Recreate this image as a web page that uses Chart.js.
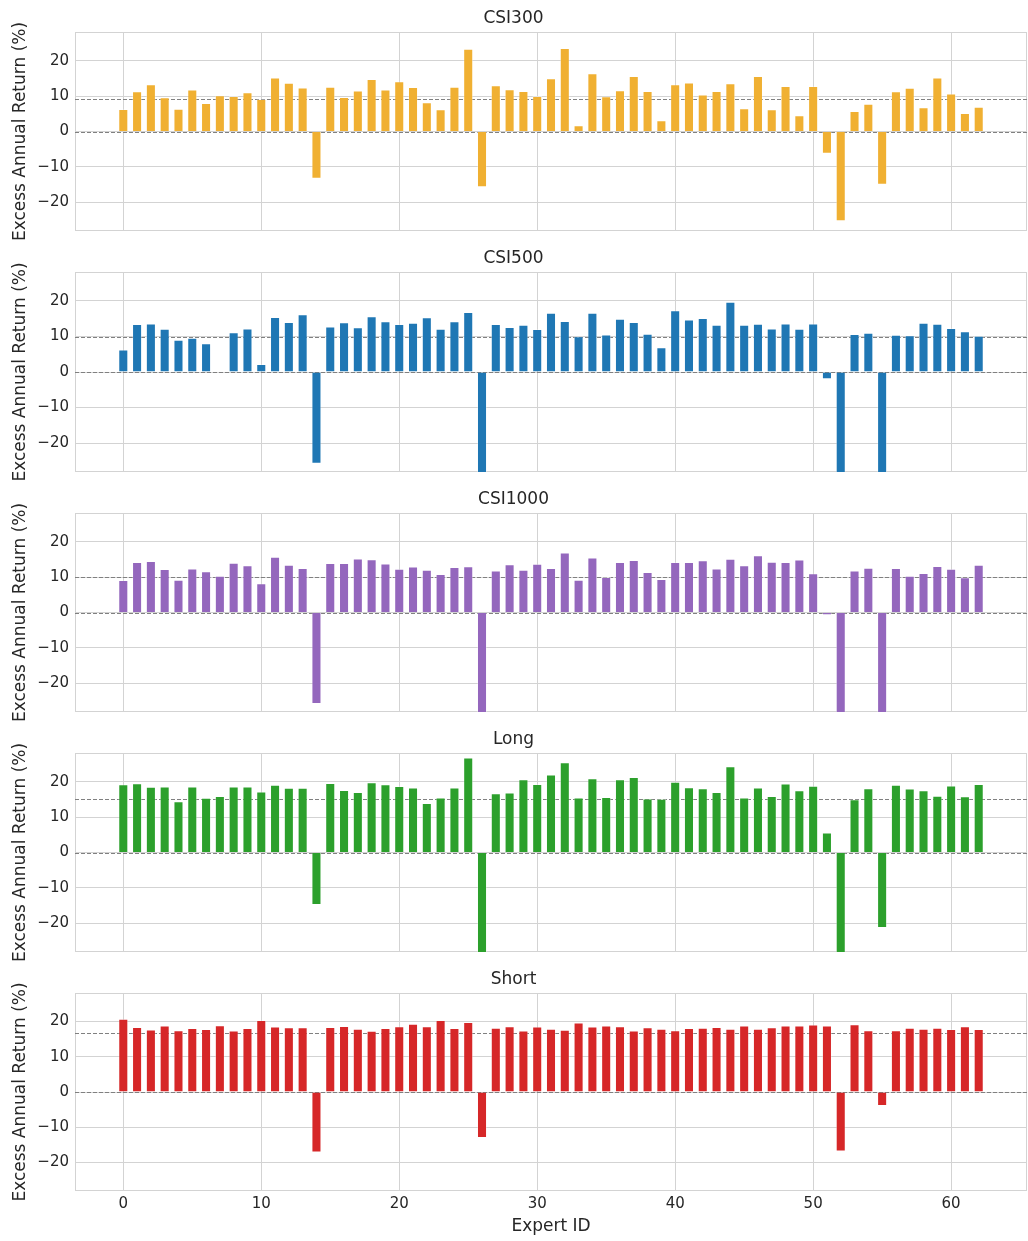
<!DOCTYPE html>
<html>
<head>
<meta charset="utf-8">
<script src="https://cdn.jsdelivr.net/npm/chart.js@4.4.1/dist/chart.umd.min.js"></script>
<style>
  body { margin: 0; background: #fff; width: 1028px; height: 1241px; position: relative; overflow: hidden; }
  .panel { position: absolute; left: 0; width: 1028px; }
</style>
</head>
<body>
<div class="panel" style="top:0px;height:246px"><canvas id="c0"></canvas></div>
<div class="panel" style="top:240px;height:247px"><canvas id="c1"></canvas></div>
<div class="panel" style="top:481px;height:246px"><canvas id="c2"></canvas></div>
<div class="panel" style="top:721px;height:246px"><canvas id="c3"></canvas></div>
<div class="panel" style="top:961px;height:280px"><canvas id="c4"></canvas></div>
<script>
const expertIds = [0, 1, 2, 3, 4, 5, 6, 7, 8, 9, 10, 11, 12, 13, 14, 15, 16, 17, 18, 19, 20,
  21, 22, 23, 24, 25, 26, 27, 28, 29, 30, 31, 32, 33, 34, 35, 36, 37, 38, 39, 40, 41,
  42, 43, 44, 45, 46, 47, 48, 49, 50, 51, 52, 53, 54, 55, 56, 57, 58, 59, 60, 61, 62];

const panelTitles = ["CSI300", "CSI500", "CSI1000", "Long", "Short"];
const panelColors = ["#f0b032", "#1f77b4", "#9467bd", "#2ca02c", "#d62728"];

const csi300 = [6.3, 11.3, 13.3, 9.6, 6.4, 11.8, 8.0, 10.2, 10.0, 11.0, 9.1, 15.2, 13.7, 12.4, -13.3,
  12.6, 9.7, 11.5, 14.8, 11.8, 14.1, 12.5, 8.2, 6.2, 12.6, 23.3, -15.7, 13.0, 11.9, 11.4, 10.0,
  15.0, 23.5, 1.7, 16.4, 9.9, 11.6, 15.6, 11.4, 3.1, 13.3, 13.8, 10.4, 11.4, 13.6, 6.5, 15.6,
  6.2, 12.8, 4.5, 12.8, -6.2, -25.3, 5.7, 7.8, -15.0, 11.3, 12.3, 6.8, 15.2, 10.7, 5.2, 6.9];

const csi500 = [6.3, 13.4, 13.6, 12.1, 9.0, 9.6, 8.0, null, 11.1, 12.2, 2.2, 15.4, 14.0, 16.2, -25.7,
  12.7, 13.9, 12.5, 15.6, 14.2, 13.4, 13.8, 15.3, 12.1, 14.2, 16.8, -36.0, 13.4, 12.6, 13.2, 12.0,
  16.6, 14.3, 10.0, 16.6, 10.5, 14.9, 14.0, 10.7, 6.9, 17.3, 14.7, 15.1, 13.2, 19.7, 13.2, 13.5,
  12.2, 13.6, 12.1, 13.6, -2.0, -38.0, 10.6, 11.0, -35.0, 10.4, 10.3, 13.8, 13.5, 12.3, 11.4, 10.1];

const csi1000 = [9.1, 14.2, 14.5, 12.2, 9.2, 12.4, 11.6, 10.3, 14.0, 13.3, 8.2, 15.7, 13.4, 12.5, -25.8,
  13.9, 13.9, 15.2, 15.0, 13.8, 12.3, 12.9, 12.0, 10.8, 12.8, 13.0, -36.0, 11.8, 13.6, 12.0, 13.7,
  12.5, 16.9, 9.2, 15.5, 10.0, 14.2, 14.8, 11.4, 9.4, 14.2, 14.2, 14.7, 12.4, 15.1, 13.3, 16.1,
  14.3, 14.2, 14.9, 11.0, -0.7, -38.0, 11.8, 12.6, -35.0, 12.5, 10.3, 11.1, 13.1, 12.3, 9.9, 13.4];

const longRet = [19.2, 19.5, 18.5, 18.6, 14.4, 18.6, 15.4, 15.9, 18.6, 18.6, 17.2, 19.1, 18.2, 18.2, -14.8,
  19.6, 17.6, 17.0, 19.8, 19.2, 18.7, 18.3, 13.9, 15.5, 18.3, 26.8, -34.0, 16.7, 16.9, 20.6, 19.3,
  22.0, 25.4, 15.5, 20.9, 15.6, 20.6, 21.3, 15.2, 15.1, 19.9, 18.4, 18.1, 17.0, 24.3, 15.5, 18.3,
  15.9, 19.4, 17.5, 18.8, 5.6, -36.0, 15.0, 18.1, -21.3, 19.1, 18.0, 17.5, 16.0, 18.9, 15.8, 19.3];

const shortRet = [20.7, 18.4, 17.7, 18.8, 17.5, 18.1, 17.8, 18.9, 17.4, 18.1, 20.4, 18.5, 18.3, 18.3, -17.1,
  18.4, 18.7, 17.9, 17.3, 18.1, 18.6, 19.3, 18.6, 20.4, 18.1, 19.8, -13.0, 18.2, 18.6, 17.4, 18.5,
  17.9, 17.6, 19.7, 18.5, 18.8, 18.6, 17.4, 18.3, 17.9, 17.5, 18.1, 18.2, 18.4, 17.9, 18.8, 17.9,
  18.3, 18.8, 18.8, 19.1, 18.8, -16.8, 19.2, 17.5, -3.9, 17.5, 18.2, 17.9, 18.2, 17.8, 18.6, 17.8];

const panelValues = [csi300, csi500, csi1000, longRet, shortRet];
// dashed mean lines
const meanLines = [9.3, 9.7, 9.9, 15.2, 16.7];

const yTicks = [-20, -10, 0, 10, 20];
const xTicks = [0, 10, 20, 30, 40, 50, 60];
const yRange = [-28.1, 28.1];
const xRange = [-3.5, 65.5];

const textColor = "#262626";
const gridColor = "#d3d3d3";
const fontFamily = "'DejaVu Sans', sans-serif";

const refLinePlugin = {
  id: "refLines",
  beforeDatasetsDraw(chart, args, opts) {
    const { ctx, chartArea } = chart;
    const y = chart.scales.y;
    ctx.save();
    ctx.strokeStyle = gridColor;
    ctx.lineWidth = 1;
    ctx.strokeRect(chartArea.left + 0.5, chartArea.top + 0.5,
      chartArea.right - chartArea.left - 1, chartArea.bottom - chartArea.top - 1);
    ctx.strokeStyle = "#808080";
    ctx.setLineDash([4, 2]);
    opts.values.forEach((v) => {
      const py = Math.round(y.getPixelForValue(v)) + 0.5;
      ctx.beginPath();
      ctx.moveTo(chartArea.left, py);
      ctx.lineTo(chartArea.right, py);
      ctx.stroke();
    });
    ctx.restore();
  },
};

const minusSign = (v) => String(v).replace("-", "\u2212");

panelTitles.forEach((title, i) => {
  const isLast = i === panelTitles.length - 1;
  const ctx = document.getElementById("c" + i).getContext("2d");
  new Chart(ctx, {
    type: "bar",
    data: {
      datasets: [{
        data: expertIds.map((id, k) => ({ x: id, y: panelValues[i][k] })),
        backgroundColor: panelColors[i],
        borderColor: "rgba(255,255,255,0.45)",
        borderWidth: 0.8,
        barPercentage: 0.7,
        categoryPercentage: 1.0,
        clip: 0,
      }],
    },
    options: {
      responsive: true,
      maintainAspectRatio: false,
      animation: false,
      layout: { padding: { left: 0, right: 1, top: 0, bottom: 0 } },
      plugins: {
        legend: { display: false },
        tooltip: { enabled: false },
        title: {
          display: true,
          text: title,
          color: textColor,
          font: { family: fontFamily, size: 17, weight: "normal" },
          padding: { top: 8, bottom: 3.6 },
        },
        refLines: { values: [0, meanLines[i]] },
      },
      scales: {
        x: {
          type: "linear",
          offset: false,
          min: xRange[0],
          max: xRange[1],
          afterBuildTicks: (s) => { s.ticks = xTicks.map((v) => ({ value: v })); },
          afterFit: (s) => { s.height = isLast ? 50 : 4; },
          grid: { color: gridColor, drawTicks: false, offset: false },
          border: { display: false },
          ticks: {
            display: isLast,
            padding: 4,
            color: textColor,
            font: { family: fontFamily, size: 15 },
            callback: minusSign,
          },
          title: {
            display: isLast,
            text: "Expert ID",
            color: textColor,
            font: { family: fontFamily, size: 17 },
            padding: { top: 0, bottom: 4 },
          },
        },
        y: {
          min: yRange[0],
          max: yRange[1],
          afterBuildTicks: (s) => { s.ticks = yTicks.map((v) => ({ value: v })); },
          afterFit: (s) => { s.width = 75; },
          grid: { color: gridColor, drawTicks: false },
          border: { display: false },
          ticks: {
            padding: 6,
            color: textColor,
            font: { family: fontFamily, size: 15 },
            callback: minusSign,
          },
          title: {
            display: true,
            text: "Excess Annual Return (%)",
            color: textColor,
            font: { family: fontFamily, size: 17 },
            padding: { top: 10, bottom: 0 },
          },
        },
      },
    },
    plugins: [refLinePlugin],
  });
});
</script>
</body>
</html>
